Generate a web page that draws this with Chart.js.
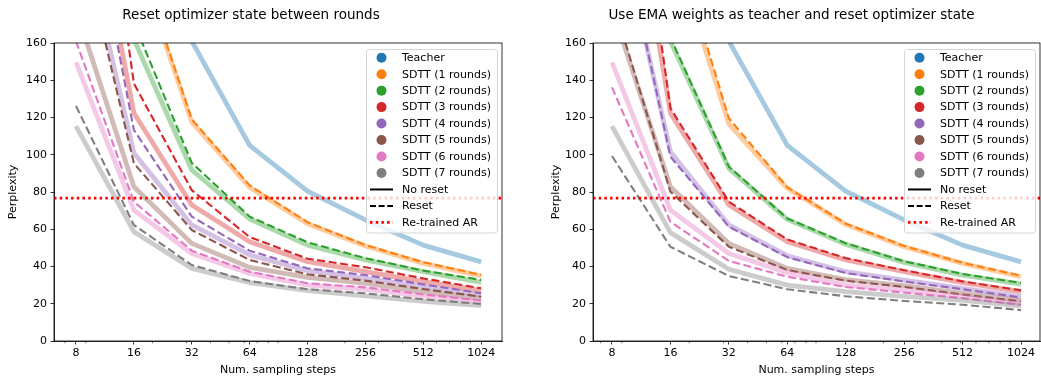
<!DOCTYPE html>
<html>
<head>
<meta charset="utf-8">
<script src="https://cdn.jsdelivr.net/npm/chart.js@4.4.1/dist/chart.umd.min.js"></script>
<style>
  html, body { margin: 0; padding: 0; background: #fff; }
  #left { position: absolute; left: 0; top: 0; width: 521px; height: 381px; }
  #right { position: absolute; left: 521px; top: 0; width: 520px; height: 381px; }
</style>
</head>
<body>
<div id="left"><canvas id="chartLeft"></canvas></div>
<div id="right"><canvas id="chartRight"></canvas></div>
<script>
// x positions (number of sampling steps) and the minor log ticks
const steps = [8, 16, 32, 64, 128, 256, 512, 1024];
const minorSteps = [6, 7, 9, 20, 30, 40, 50, 60, 70, 80, 90, 200, 300, 400, 500, 600, 700, 800, 900];
const yTicks = [0, 20, 40, 60, 80, 100, 120, 140, 160];

const teacher = [500, 280, 161, 105, 80.5, 65, 51.5, 42.5];
const retrainedAR = 76.7;
const roundLabels = ["SDTT (1 rounds)", "SDTT (2 rounds)", "SDTT (3 rounds)", "SDTT (4 rounds)",
                     "SDTT (5 rounds)", "SDTT (6 rounds)", "SDTT (7 rounds)"];

// left panel: reset optimizer state between rounds
const leftNoReset = [
  [400, 210, 117.5, 82.5, 63, 51, 41.7, 35],
  [300, 162, 91.8, 65.5, 51.5, 43.5, 37.2, 31.5],
  [285, 122.4, 73, 53.3, 42.6, 37.2, 31.9, 27],
  [235, 101, 62.3, 46.2, 37.8, 33.6, 29.2, 24.7],
  [178, 82.8, 52.4, 39.5, 34.2, 31, 26.5, 22.9],
  [149.6, 70.3, 47, 36.3, 30, 27.7, 24.2, 21.1],
  [115.4, 58.7, 39, 31.3, 27, 24.2, 21.3, 19]
];
const leftReset = [
  [410, 212, 119, 83.5, 63.8, 51.5, 42.3, 35.5],
  [320, 171, 95.6, 66.8, 53, 44.5, 37.8, 32.8],
  [360, 138.3, 81, 55.8, 44.2, 39.6, 33.6, 28.3],
  [275, 113.3, 66.8, 48.5, 39, 35.4, 30.4, 25.6],
  [227, 95.4, 59.6, 43.5, 35.8, 32.4, 27.9, 23.8],
  [161, 74.8, 48.5, 37.2, 31, 28.8, 25, 21.7],
  [126.2, 62.3, 40.8, 32.2, 27.8, 25.6, 22.4, 19.9]
];

// right panel: EMA weights as teacher and reset optimizer state
const rightNoReset = [
  [400, 216, 116.5, 82, 62.6, 50.6, 41.7, 34.5],
  [300, 161, 92.7, 65.3, 51.9, 42.2, 35.4, 30.6],
  [312, 122.3, 73, 53.3, 43.5, 37.2, 31.3, 26.5],
  [241, 101.6, 62.3, 45.8, 37.2, 32.7, 28.3, 23.8],
  [179, 82.8, 52.4, 39, 33, 29.7, 25.6, 21.7],
  [149.6, 70.3, 47, 36.7, 30, 27.2, 23.8, 19.9],
  [115.4, 58.2, 38.5, 30, 26.5, 24, 21.8, 18.8]
];
const rightReset = [
  [420, 223, 119.6, 82.5, 63, 51, 42, 35],
  [310, 163, 93.6, 65.8, 52.5, 42.8, 36, 31.2],
  [350, 125, 74.8, 54.5, 44.5, 38, 32, 27.2],
  [245, 99, 61.4, 45, 36.5, 32, 27.8, 23.4],
  [184, 80.2, 50.6, 38.1, 32.4, 29, 25, 21.3],
  [136.2, 64, 43, 34.5, 29, 26, 23, 19.5],
  [99.3, 50.6, 34.9, 27.8, 24, 21.5, 19.5, 16.6]
];

const teacherColor = "#1f77b4";
const roundColors = ["#ff7f0e", "#2ca02c", "#d62728", "#9467bd", "#8c564b", "#e377c2", "#7f7f7f"];

const FONT = "'DejaVu Sans', sans-serif";
Chart.defaults.font.family = FONT;
Chart.defaults.font.size = 11;
Chart.defaults.color = "#000";

function fade(hex, a) {
  const n = parseInt(hex.slice(1), 16);
  return `rgba(${(n >> 16) & 255}, ${(n >> 8) & 255}, ${n & 255}, ${a})`;
}

function points(vals) {
  return steps.map((s, i) => ({ x: s, y: vals[i] }));
}

// matplotlib-like legend box in the upper right of the axes
const boxLegend = {
  id: "boxLegend",
  afterDraw(chart) {
    const { ctx, chartArea } = chart;
    const w = 131, h = 183.5, row = 16.47;
    const x0 = chartArea.right - 5 - w, y0 = chartArea.top + 6;
    const items = [{ label: "Teacher", dot: teacherColor }]
      .concat(roundLabels.map((l, i) => ({ label: l, dot: roundColors[i] })))
      .concat([
        { label: "No reset", line: "#000", dash: [], lw: 2 },
        { label: "Reset", line: "#000", dash: [6, 2.6], lw: 2 },
        { label: "Re-trained AR", line: "red", dash: [2.5, 3.2], lw: 2.6 }
      ]);
    ctx.save();
    ctx.beginPath();
    ctx.roundRect(x0 + 0.5, y0 + 0.5, w, h, 3);
    ctx.fillStyle = "rgba(255,255,255,0.8)";
    ctx.fill();
    ctx.strokeStyle = "#d5d5d5";
    ctx.lineWidth = 1;
    ctx.stroke();
    ctx.font = "11px " + FONT;
    ctx.textBaseline = "middle";
    items.forEach((it, i) => {
      const y = y0 + 8.7 + i * row;
      if (it.dot) {
        ctx.beginPath();
        ctx.arc(x0 + 15.5, y, 5, 0, Math.PI * 2);
        ctx.fillStyle = it.dot;
        ctx.fill();
      } else {
        ctx.beginPath();
        ctx.setLineDash(it.dash);
        ctx.moveTo(x0 + 4, y);
        ctx.lineTo(x0 + 27, y);
        ctx.strokeStyle = it.line;
        ctx.lineWidth = it.lw;
        ctx.stroke();
        ctx.setLineDash([]);
      }
      ctx.fillStyle = "#000";
      ctx.fillText(it.label, x0 + 36, y + 0.5);
    });
    ctx.restore();
  }
};

// full axes frame and minor ticks on the log axis
const frameAndMinor = {
  id: "frameAndMinor",
  afterDraw(chart) {
    const { ctx, chartArea } = chart;
    const xs = chart.scales.x;
    ctx.save();
    ctx.strokeStyle = "#000";
    ctx.lineWidth = 0.8;
    ctx.strokeRect(chartArea.left, chartArea.top, chartArea.right - chartArea.left, chartArea.bottom - chartArea.top);
    ctx.lineWidth = 0.6;
    minorSteps.forEach(v => {
      if (v < xs.min || v > xs.max) return;
      const x = xs.getPixelForValue(v);
      ctx.beginPath();
      ctx.moveTo(x, chartArea.bottom);
      ctx.lineTo(x, chartArea.bottom + 2.2);
      ctx.stroke();
    });
    ctx.restore();
  }
};

function buildChart(id, title, noReset, reset, xMin, xMax, padLeft, padRight, yWidth) {
  const datasets = [];
  let order = 100;
  datasets.push({
    label: "Teacher", data: points(teacher), borderColor: fade(teacherColor, 0.4),
    borderWidth: 4.8, order: order--
  });
  roundLabels.forEach((lab, r) => {
    datasets.push({
      label: lab + " no reset", data: points(noReset[r]), borderColor: fade(roundColors[r], 0.4),
      borderWidth: 4.8, order: order--
    });
    datasets.push({
      label: lab + " reset", data: points(reset[r]), borderColor: roundColors[r],
      borderWidth: 2.1, borderDash: [8, 3.6], borderCapStyle: "butt", order: order--
    });
  });
  datasets.push({
    label: "Re-trained AR", data: [{ x: xMin, y: retrainedAR }, { x: xMax, y: retrainedAR }],
    borderColor: "red", borderWidth: 2.6, borderDash: [2.5, 3.2], order: 0
  });

  return new Chart(document.getElementById(id), {
    type: "line",
    data: { datasets },
    options: {
      responsive: true,
      maintainAspectRatio: false,
      animation: false,
      devicePixelRatio: 1,
      layout: { padding: { left: padLeft, right: padRight, top: 0, bottom: 0 } },
      datasets: {
        line: { pointRadius: 0, tension: 0, fill: false, clip: 0, borderJoinStyle: "round" }
      },
      plugins: {
        legend: { display: false },
        tooltip: { enabled: false },
        title: {
          display: true, text: title, color: "#000",
          font: { size: 13.5, weight: "normal" },
          padding: { top: 7, bottom: 19.8 }
        }
      },
      scales: {
        x: {
          type: "logarithmic", min: xMin, max: xMax,
          afterBuildTicks: s => { s.ticks = steps.map(v => ({ value: v })); },
          afterFit: s => { s.height = 40; },
          ticks: { autoSkip: false, maxRotation: 0, padding: 2, callback: v => String(v), color: "#000" },
          grid: { display: true, drawOnChartArea: false, drawTicks: true, tickLength: 3.5, color: "#000", tickWidth: 0.8 },
          border: { display: true, color: "#000", width: 0.8 },
          title: { display: true, text: "Num. sampling steps", color: "#000", padding: { top: 0, bottom: 4 } }
        },
        y: {
          type: "linear", min: 0, max: 160,
          afterBuildTicks: s => { s.ticks = yTicks.map(v => ({ value: v })); },
          afterFit: s => { s.width = yWidth; },
          ticks: { padding: 3.5, color: "#000" },
          grid: { display: true, drawOnChartArea: false, drawTicks: true, tickLength: 3.5, color: "#000", tickWidth: 0.8 },
          border: { display: true, color: "#000", width: 0.8 },
          title: { display: true, text: "Perplexity", color: "#000", padding: { top: 7, bottom: 0 } }
        }
      }
    },
    plugins: [frameAndMinor, boxLegend]
  });
}

buildChart("chartLeft", "Reset optimizer state between rounds", leftNoReset, leftReset,
  Math.pow(2, 2.62), Math.pow(2, 10.36), 0, 19, 54);
buildChart("chartRight", "Use EMA weights as teacher and reset optimizer state", rightNoReset, rightReset,
  Math.pow(2, 2.675), Math.pow(2, 10.325), 22, 1, 50);
</script>
</body>
</html>
